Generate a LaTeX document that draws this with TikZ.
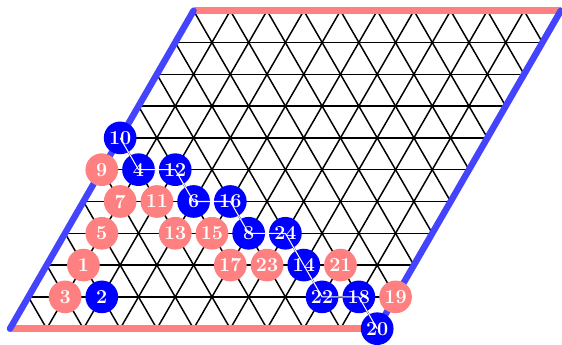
\documentclass[tikz,border=0pt]{standalone}
\usetikzlibrary{calc}
\definecolor{edgeblue}{RGB}{68,68,255}
\definecolor{edgered}{RGB}{255,128,128}
\definecolor{stonered}{RGB}{255,128,128}
\definecolor{stoneblue}{RGB}{0,0,255}
\tikzset{
  gridline/.style={black, line width=1.15pt},
  redside/.style={edgered, line width=5pt, line cap=butt},
  blueside/.style={edgeblue, line width=5pt, line cap=round},
  stone/.style={circle, minimum size=0.89cm, inner sep=0pt, text=white, font=\fontsize{15.3}{18}\selectfont\bfseries},
  redstone/.style={stone, fill=stonered},
  bluestone/.style={stone, fill=stoneblue},
  chain/.style={white, line width=0.8pt}
}
\begin{document}
\begin{tikzpicture}[x={(1cm,0cm)}, y={(0.5cm,0.8660254cm)}]
\useasboundingbox (-0.272cm,-0.444cm) rectangle (15.033cm,8.951cm);
% corner coordinates
\coordinate (c00) at (0,0);
\coordinate (c10) at (10,0);
\coordinate (c01) at (0,10);
\coordinate (c11) at (10,10);
% horizontal lines
\foreach \j in {1,...,9} \draw[gridline] (0,\j) -- (10,\j);
% "/" lines
\foreach \i in {1,...,9} \draw[gridline] (\i,0) -- (\i,10);
% "\" lines (constant i+j)
\foreach \k in {1,...,10} \draw[gridline] (\k,0) -- (0,\k);
\foreach \k in {11,...,19} {
  \pgfmathtruncatemacro{\a}{\k-10}
  \draw[gridline] (10,\a) -- (\a,10);
}
% sides
\draw[redside] (c00) -- (c10);
\draw[redside] (c01) -- (c11);
\draw[blueside] (c00) -- (c01);
\draw[blueside] (c10) -- (c11);
% stones
\node[redstone]  (s1)  at (1,2)  {1};
\node[bluestone] (s2)  at (2,1)  {2};
\node[redstone]  (s3)  at (1,1)  {3};
\node[bluestone] (s4)  at (1,5)  {4};
\node[redstone]  (s5)  at (1,3)  {5};
\node[bluestone] (s6)  at (3,4)  {6};
\node[redstone]  (s7)  at (1,4)  {7};
\node[bluestone] (s8)  at (5,3)  {8};
\node[redstone]  (s9)  at (0,5)  {9};
\node[bluestone] (s10) at (0,6)  {10};
\node[redstone]  (s11) at (2,4)  {11};
\node[bluestone] (s12) at (2,5)  {12};
\node[redstone]  (s13) at (3,3)  {13};
\node[bluestone] (s14) at (7,2)  {14};
\node[redstone]  (s15) at (4,3)  {15};
\node[bluestone] (s16) at (4,4)  {16};
\node[redstone]  (s17) at (5,2)  {17};
\node[bluestone] (s18) at (9,1)  {18};
\node[redstone]  (s19) at (10,1) {19};
\node[bluestone] (s20) at (10,0) {20};
\node[redstone]  (s21) at (8,2)  {21};
\node[bluestone] (s22) at (8,1)  {22};
\node[redstone]  (s23) at (6,2)  {23};
\node[bluestone] (s24) at (6,3)  {24};
% winning chain
\draw[chain] (s10.center) -- (s4.center) -- (s12.center) -- (s6.center) -- (s16.center)
  -- (s8.center) -- (s24.center) -- (s14.center) -- (s22.center) -- (s18.center) -- (s20.center);
\end{tikzpicture}
\end{document}
